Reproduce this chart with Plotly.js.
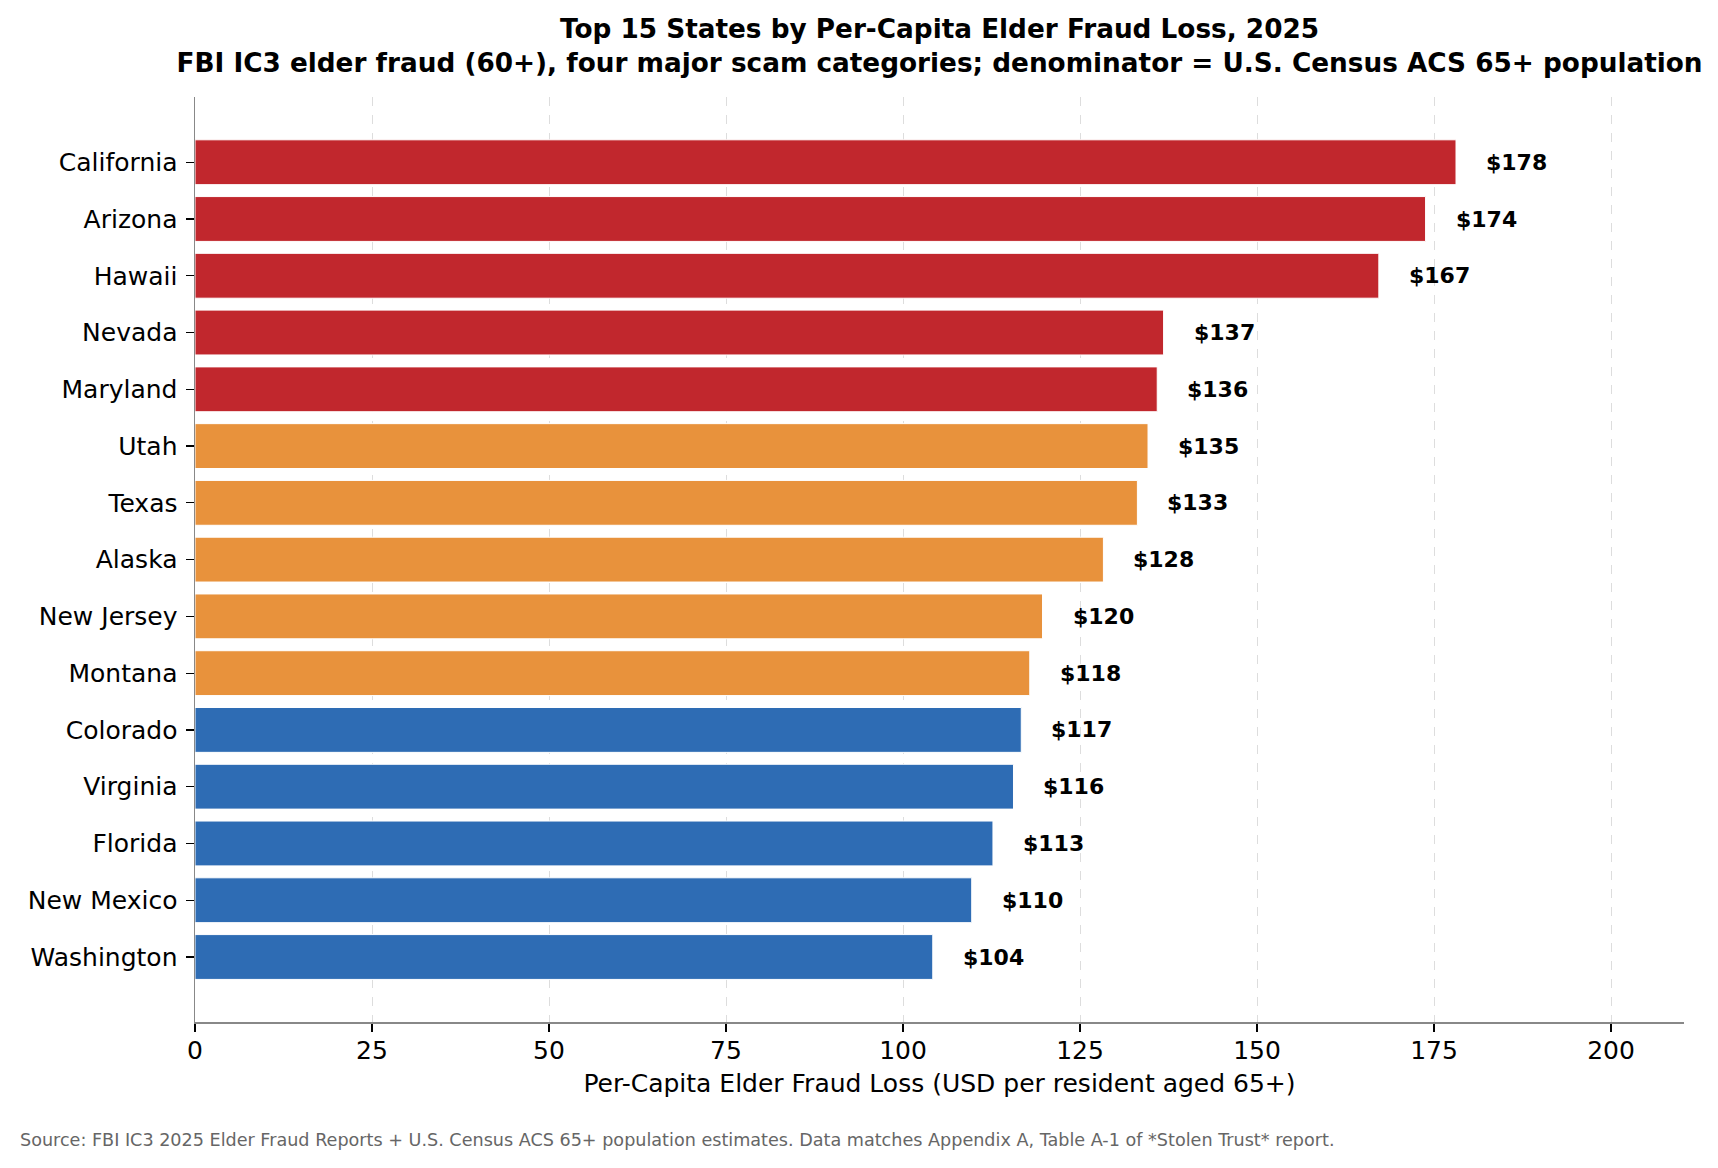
<!DOCTYPE html>
<html>
<head>
<meta charset="utf-8">
<script src="https://cdn.plot.ly/plotly-3.0.1.min.js"></script>
<style>
  html, body { margin: 0; padding: 0; background: #ffffff; }
  #chart { width: 1718px; height: 1168px; }
</style>
</head>
<body>
<div id="chart"></div>
<script>
// ---- Data ----
const states = [
  "California", "Arizona", "Hawaii", "Nevada", "Maryland",
  "Utah", "Texas", "Alaska", "New Jersey", "Montana",
  "Colorado", "Virginia", "Florida", "New Mexico", "Washington"
];
const perCapitaLoss = [
  178.1, 173.8, 167.2, 136.8, 135.9,
  134.6, 133.1, 128.3, 119.7, 117.9,
  116.7, 115.6, 112.7, 109.7, 104.2
];
const xTickValues = [0, 25, 50, 75, 100, 125, 150, 175, 200];

const titleLine1 = "Top 15 States by Per-Capita Elder Fraud Loss, 2025";
const titleLine2 = "FBI IC3 elder fraud (60+), four major scam categories; denominator = U.S. Census ACS 65+ population";
const xAxisTitle = "Per-Capita Elder Fraud Loss (USD per resident aged 65+)";
const sourceNote = "Source: FBI IC3 2025 Elder Fraud Reports + U.S. Census ACS 65+ population estimates. Data matches Appendix A, Table A-1 of *Stolen Trust* report.";

// ---- Styling ----
const FONT = "DejaVu Sans, Verdana, sans-serif";
const RED = "#c1272d", ORANGE = "#e8923c", BLUE = "#2e6cb4";
function tierColor(i) { return i < 5 ? RED : (i < 10 ? ORANGE : BLUE); }
const barColors = states.map((s, i) => tierColor(i));

const trace = {
  type: "bar",
  orientation: "h",
  y: states,
  x: perCapitaLoss,
  width: 0.79,
  marker: { color: barColors, line: { color: "#ffffff", width: 1 } },
  hoverinfo: "x+y",
  showlegend: false
};

const valueLabels = states.map((s, i) => ({
  x: perCapitaLoss[i],
  y: s,
  xref: "x", yref: "y",
  text: "<b>$" + Math.round(perCapitaLoss[i]) + "</b>",
  showarrow: false,
  xanchor: "left",
  yanchor: "middle",
  xshift: 28,
  font: { family: FONT, size: 22, color: "#000000" }
}));

const sourceAnn = {
  xref: "paper", yref: "paper",
  x: 0, y: 0,
  xshift: -177, yshift: -118,
  xanchor: "left", yanchor: "middle",
  text: sourceNote,
  showarrow: false,
  font: { family: FONT, size: 17.6, color: "#666666" }
};

const layout = {
  width: 1718,
  height: 1168,
  paper_bgcolor: "#ffffff",
  plot_bgcolor: "#ffffff",
  margin: { l: 195, r: 34, t: 97, b: 146 },
  font: { family: FONT, size: 25, color: "#000000" },
  title: {
    text: "<b>" + titleLine1 + "</b><br><b>" + titleLine2 + "</b>",
    font: { family: FONT, size: 26.3, color: "#000000" },
    xref: "paper", x: 0.5, xanchor: "center",
    yref: "container", y: 1 - 38 / 1168, yanchor: "top"
  },
  xaxis: {
    range: [0, 210.3],
    tickmode: "array",
    tickvals: xTickValues,
    ticktext: xTickValues.map(String),
    ticks: "outside", ticklen: 8, tickwidth: 1.2, tickcolor: "#000000",
    ticklabelstandoff: -3,
    tickfont: { family: FONT, size: 25, color: "#000000" },
    showline: true, linecolor: "#888888", linewidth: 1.5,
    showgrid: true, gridcolor: "#dddddd", gridwidth: 1, griddash: "dash",
    zeroline: false,
    title: { text: xAxisTitle, font: { family: FONT, size: 25, color: "#000000" }, standoff: 11 },
    automargin: false,
    fixedrange: true
  },
  yaxis: {
    type: "category",
    categoryorder: "array",
    categoryarray: states,
    range: [15.145, -1.149],
    ticks: "outside", ticklen: 8, tickwidth: 1.2, tickcolor: "#000000",
    ticklabelstandoff: 3,
    tickfont: { family: FONT, size: 25, color: "#000000" },
    showline: true, linecolor: "#888888", linewidth: 1.5,
    showgrid: false, zeroline: false,
    automargin: false,
    fixedrange: true
  },
  annotations: valueLabels.concat([sourceAnn]),
  bargap: 0.2
};

Plotly.newPlot("chart", [trace], layout, { displayModeBar: false, staticPlot: true });
</script>
</body>
</html>
